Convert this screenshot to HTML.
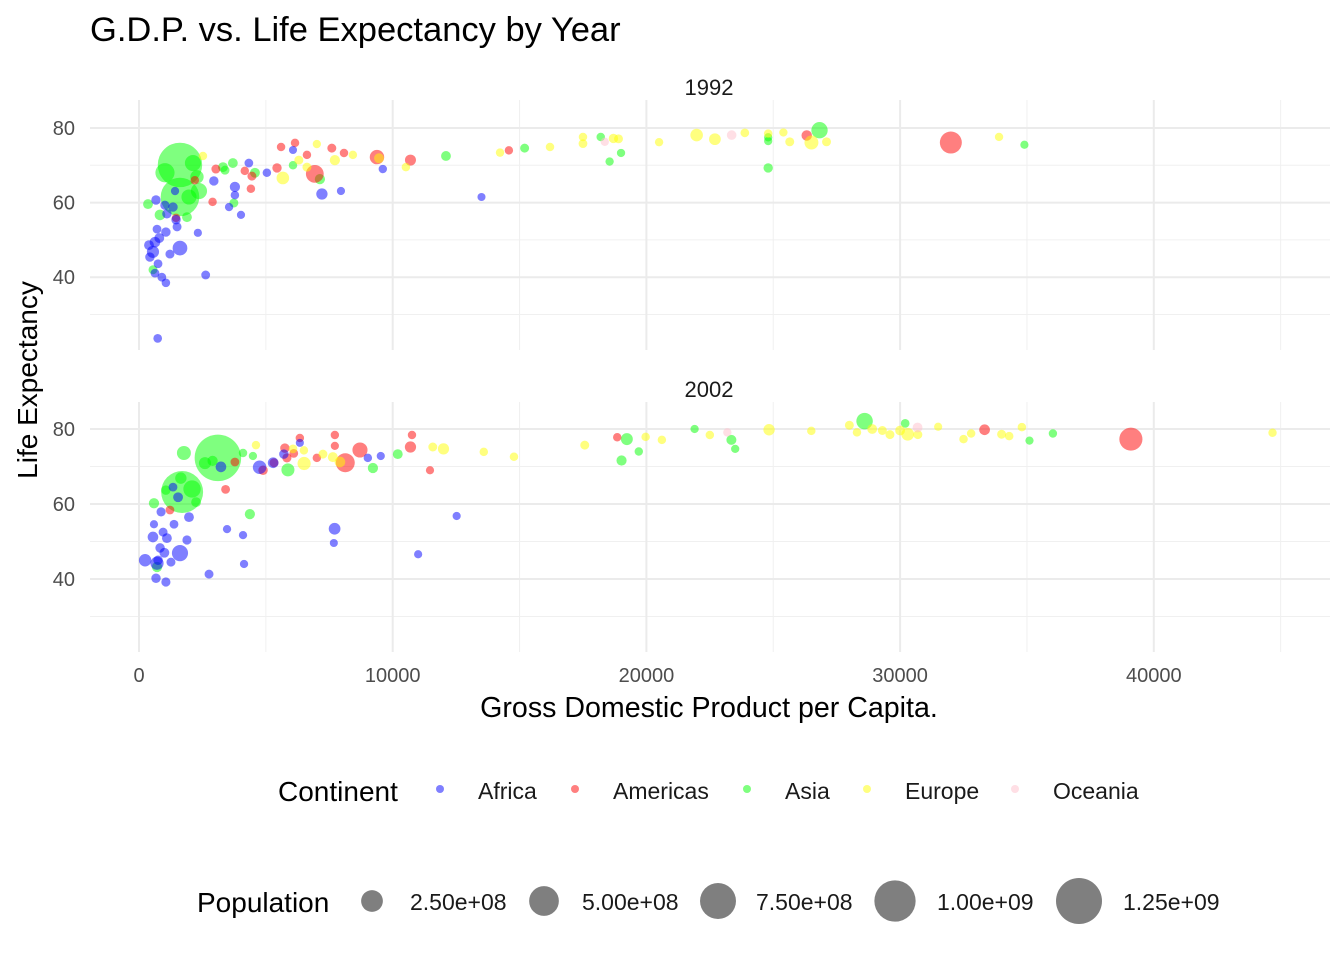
<!DOCTYPE html>
<html><head><meta charset="utf-8"><style>
body{margin:0;background:#fff;}
svg{display:block;font-family:"Liberation Sans",Arial,sans-serif;}
</style></head><body>
<svg id="chart" width="1344" height="960" viewBox="0 0 1344 960">
<text x="90" y="41" font-size="34.5" fill="#000">G.D.P. vs. Life Expectancy by Year</text>
<g id="grid"></g>
<g id="pts"></g>
<text x="709" y="95" font-size="22" text-anchor="middle" fill="#1a1a1a">1992</text>
<text x="709" y="397" font-size="22" text-anchor="middle" fill="#1a1a1a">2002</text>
<text x="709" y="717" font-size="28.6" text-anchor="middle" fill="#000">Gross Domestic Product per Capita.</text>
<text transform="translate(37,380) rotate(-90)" font-size="28" text-anchor="middle" fill="#000">Life Expectancy</text>
<g id="legend"></g>
</svg>
<script>
const continents=["Africa","Americas","Asia","Europe","Oceania"];
const colors=["#0000ff","#ff0000","#00ff00","#ffff00","#ffc0cb"];
const xTicks=[0,10000,20000,30000,40000];
const yTicks=[40,60,80];
const sizeBreaks=[250,500,750,1000,1250];
const sizeLabels=["2.50e+08","5.00e+08","7.50e+08","1.00e+09","1.25e+09"];
// [gdp, lifeExp, pop (millions), continent index]
const data1992=[
[1615,70.1,1164,2],[1615,61.5,870,2],[1024,68,185,2],[2127,70.6,120,2],[2285,66.9,70,2],[2364,63.1,120,2],[1970,61.5,100,2],[355,59.6,20,2],[827,56.7,30,2],[1891,56.1,20,2],[552,42,10,2],[3310,69.5,20,2],[3700,70.6,20,2],[3390,68.7,10,2],[4570,68,20,2],[7130,66.3,25,2],[6070,70,5,2],[3740,59.9,10,2],[12100,72.5,20,2],[15200,74.6,10,2],[18550,71,3,2],[19000,73.3,3,2],[18200,77.6,5,2],[24800,76.5,3,2],[24800,69.3,15,2],[26824,79.4,124,2],[34900,75.5,2,2],[24800,77.5,3,2],
[5600,74.9,5,1],[6150,76,5,1],[6620,72.8,5,1],[7600,74.6,10,1],[8080,73.3,5,1],[9380,72.2,88,1],[10700,71.4,35,1],[3030,69,10,1],[4170,68.5,5,1],[4450,67.1,10,1],[4410,63.7,5,1],[2900,60.2,5,1],[5440,69.3,15,1],[6930,67.7,155,1],[1460,55.9,5,1],[14580,74,4,1],[26320,78,28,1],[32000,76.1,256,1],[2200,66,5,1],
[2520,72.5,5,3],[7010,75.7,3,3],[6300,71.4,10,3],[6620,69.5,10,3],[7720,71.4,25,3],[8430,72.8,5,3],[5670,66.6,58,3],[10520,69.5,5,3],[9460,71.9,20,3],[14230,73.4,4,3],[16200,74.9,5,3],[17500,77.6,5,3],[17500,75.8,8,3],[18700,77.2,15,3],[20500,76.2,4,3],[21980,78.1,57,3],[22700,77,45,3],[23880,78.7,7,3],[24800,78.5,5,3],[25400,78.8,3,3],[25650,76.3,10,3],[26505,76.1,80,3],[27100,76.3,10,3],[33900,77.6,4,3],[18900,77.1,10,3],
[23360,78.1,17,4],[18360,76.3,3,4],
[6070,74.1,1,0],[4330,70.6,8,0],[5040,68,5,0],[9610,69,4,0],[2950,65.8,15,0],[3780,64.2,25,0],[3780,62,5,0],[7210,62.3,39,0],[7960,63.1,2,0],[13500,61.5,1,0],[3550,58.8,3,0],[4020,56.7,2,0],[1420,63.1,3,0],[670,60.7,15,0],[1020,59.3,12,0],[1340,58.8,15,0],[1460,55.4,15,0],[1500,53.5,10,0],[2320,51.9,2,0],[710,52.9,8,0],[1060,52.1,15,0],[630,49.4,30,0],[394,48.6,20,0],[1615,47.8,93,0],[1220,46.2,10,0],[430,45.4,15,0],[550,46.8,52,0],[750,43.6,8,0],[630,41.1,8,0],[900,40,8,0],[1060,38.5,6,0],[2628,40.6,9,0],[737,23.6,7,0],[800,50.5,20,0],[1100,57,15,0]
];
const data2002=[
[3110,72.3,1280,2],[1700,63.2,1034,2],[1770,73.6,80,2],[2600,70.9,50,2],[2090,64,145,2],[1650,66.9,40,2],[2250,60.5,20,2],[590,60.2,25,2],[710,43.2,25,2],[1060,63.7,15,2],[4100,73.6,5,2],[4490,72.8,3,2],[5870,69.1,65,2],[4370,57.3,24,2],[9220,69.6,25,2],[10200,73.3,20,2],[19230,77.3,47,2],[19020,71.6,24,2],[19700,74,4,2],[21900,80,3,2],[23350,77.1,22,2],[23500,74.7,3,2],[28600,82.1,127,2],[30200,81.5,7,2],[35100,76.9,2,2],[36023,78.8,4,2],[2900,71.5,25,2],
[10760,78.4,4,1],[10700,75.2,38,1],[11470,69,2,1],[8131,71,180,1],[8710,74.4,100,1],[7720,78.4,4,1],[7720,75.5,2,1],[7010,72.3,5,1],[6340,77.6,5,1],[5750,74.9,15,1],[5830,72.3,12,1],[5320,71,10,1],[4890,69,15,1],[3780,71.2,8,1],[3413,63.9,9,1],[1220,58.4,8,1],[18850,77.8,4,1],[33330,79.8,31,1],[39097,77.3,287,1],[6100,73.5,8,1],
[4610,75.7,4,3],[6070,74.7,8,3],[6500,74.3,5,3],[6508,70.8,67,3],[7250,73.3,10,3],[7640,72.5,22,3],[7920,71.2,30,3],[11580,75.2,10,3],[12002,74.7,38,3],[13590,73.9,5,3],[14780,72.6,5,3],[17570,75.7,10,3],[19970,77.9,5,3],[20610,77.1,5,3],[22500,78.4,5,3],[24835,79.8,40,3],[28000,81,10,3],[28300,79.1,5,3],[28900,80,20,3],[29300,79.6,10,3],[29600,78.5,10,3],[30000,79.6,20,3],[30300,78.6,60,3],[30700,78.5,10,3],[31500,80.6,2,3],[32500,77.3,5,3],[32800,78.8,5,3],[34000,78.6,10,3],[34300,78.1,5,3],[34800,80.5,5,3],[44680,79,4,3],[26500,79.5,5,3],
[23190,79.1,4,4],[30688,80.4,20,4],
[6340,76.3,1,0],[5710,73.3,15,0],[4754,69.8,73,0],[5288,71,31,0],[9020,72.3,5,0],[9530,72.8,2,0],[3230,69.9,30,0],[1340,64.5,8,0],[1540,61.8,20,0],[870,57.9,12,0],[1970,56.5,20,0],[590,54.6,2,0],[1380,54.6,8,0],[950,52.5,10,0],[550,51.2,30,0],[1100,50.9,20,0],[1890,50.4,12,0],[830,48.3,15,0],[1615,46.9,120,0],[241,45,55,0],[710,44.2,67,0],[670,40.2,15,0],[1060,39.2,12,0],[1260,44.5,10,0],[3470,53.3,3,0],[4100,51.7,3,0],[4140,44,3,0],[2760,41.3,10,0],[7710,53.4,45,0],[7680,49.6,1,0],[12521,56.8,2,0],[11003,46.6,2,0],[1000,47,20,0],[750,45,15,0]
];
const NS="http://www.w3.org/2000/svg";
function mk(tag,attrs,parent){const e=document.createElementNS(NS,tag);for(const k in attrs)e.setAttribute(k,attrs[k]);parent.appendChild(e);return e;}
const X0=90,X1=1330;
function sx(v){return 139+v*0.025370;}
const panels=[{top:100,bot:350,y80:128,k:3.73,data:data1992},{top:402,bot:652,y80:429,k:3.75,data:data2002}];
function rad(p){return Math.sqrt(16+0.41*p);}
const grid=document.getElementById('grid'),pts=document.getElementById('pts');
panels.forEach(P=>{
  const sy=v=>P.y80-(v-80)*P.k;
  [30,50,70].forEach(v=>{const l=mk('line',{x1:X0,x2:X1,y1:sy(v),y2:sy(v),stroke:'#f0f0f0','stroke-width':1},grid);
    
    });
  [5000,15000,25000,35000,45000].forEach(v=>{const l=mk('line',{x1:sx(v),x2:sx(v),y1:P.top,y2:P.bot,stroke:'#f0f0f0','stroke-width':1},grid);
    
    });
  yTicks.forEach(v=>{const l=mk('line',{x1:X0,x2:X1,y1:sy(v),y2:sy(v),stroke:'#ebebeb','stroke-width':2},grid);
    
    
    const t=mk('text',{x:75,y:sy(v)+7,'font-size':20,'text-anchor':'end',fill:'#4d4d4d'},grid);t.textContent=v;
    
    });
  xTicks.forEach(v=>{const l=mk('line',{x1:sx(v),x2:sx(v),y1:P.top,y2:P.bot,stroke:'#ebebeb','stroke-width':2},grid);
    
    });
  P.data.forEach(d=>{const c=mk('circle',{cx:sx(d[0]),cy:sy(d[1]),r:rad(d[2]),fill:colors[d[3]],'fill-opacity':0.5},pts);
    
    });
});
xTicks.forEach(v=>{const t=mk('text',{x:sx(v),y:682,'font-size':20,'text-anchor':'middle',fill:'#4d4d4d'},grid);t.textContent=v;
  
  });
const lg=document.getElementById('legend');
let t=mk('text',{x:278,y:801,'font-size':28,fill:'#000'},lg);t.textContent='Continent';


const cx=[440,575,747,867,1015];
continents.forEach((c,i)=>{const d=mk('circle',{cx:cx[i],cy:789,r:4,fill:colors[i],'fill-opacity':0.5},lg);
  
  
  const tt=mk('text',{x:cx[i]+38,y:799,'font-size':23,fill:'#1a1a1a'},lg);tt.textContent=c;
  
  });
t=mk('text',{x:197,y:912,'font-size':28,fill:'#000'},lg);t.textContent='Population';


const px=[372,544,718,895,1079];
const lx=[410,582,756,937,1123];
sizeBreaks.forEach((s,i)=>{const d=mk('circle',{cx:px[i],cy:901,r:rad(s),fill:'#000','fill-opacity':0.5},lg);
  
  
  const tt=mk('text',{x:lx[i],y:910,'font-size':23,fill:'#1a1a1a'},lg);tt.textContent=sizeLabels[i];
  
  });
</script>
</body></html>
